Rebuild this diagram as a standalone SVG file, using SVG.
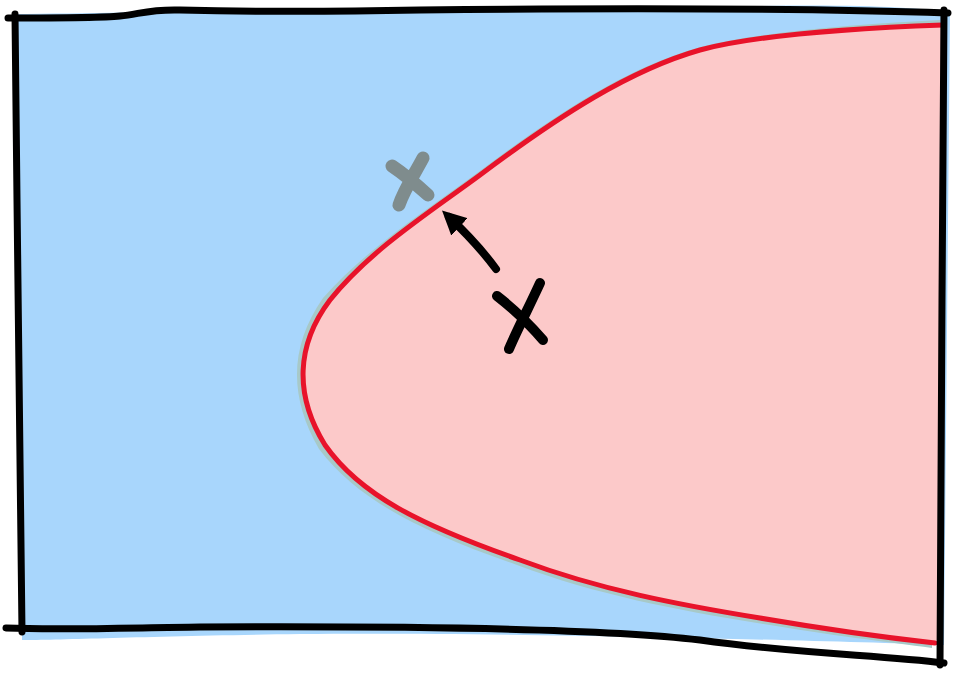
<svg xmlns="http://www.w3.org/2000/svg" width="953" height="673" viewBox="0 0 953 673">
<style>
.frame{fill:none;stroke:#000;stroke-width:7;stroke-linecap:round;stroke-linejoin:round}
.mark{fill:none;stroke-linecap:round;stroke-linejoin:round}
</style>
<defs>
<marker id="ah" viewBox="0 0 10 10" refX="6" refY="5" markerWidth="3" markerHeight="3" orient="auto">
<path d="M0,0 L10,5 L0,10 Z" fill="#000"/>
</marker>
</defs>
<g id="background">
<path d="M14,14 C200,12 500,6 760,6 C860,4 920,8 950,12 L944,645 C800,640 500,632 300,634 C150,636 60,640 22,640 Z" fill="#a8d6fc"/>
</g>
<g id="region">
<path d="M943,18 C860,22 760,30 700,46 C630,66 560,111 480,171 C430,208 370,246 326,296 C292,345 292,395 322,447 C360,497 420,528 520,563 C600,593 680,608 760,621 C830,633 890,640 935,646 Z" fill="#a7c9c8" transform="translate(-3,2)"/>
<path d="M943,25 C860,28 760,34 700,50 C630,70 560,115 480,175 C430,212 370,250 330,300 C296,345 294,395 325,445 C360,495 420,525 520,560 C600,590 680,605 760,618 C830,630 890,638 935,643 L942,643 L946,25 Z" fill="#fcc9c9"/>
<path d="M943,25 C860,28 760,34 700,50 C630,70 560,115 480,175 C430,212 370,250 330,300 C296,345 294,395 325,445 C360,495 420,525 520,560 C600,590 680,605 760,618 C830,630 890,638 935,643" fill="none" stroke="#e8132a" stroke-width="5" stroke-linecap="round"/>
</g>
<g id="frame">
<path class="frame" d="M8,18 C60,18 100,18 120,16 C140,14 150,9 180,10 C260,12 320,12 420,10 C600,8 800,8 948,13"/>
<path class="frame" d="M15,14 L17,200 L22,632"/>
<path class="frame" d="M6,628 C60,630 120,628 200,627 C400,626 600,628 700,640 C800,654 880,655 944,663"/>
<path class="frame" d="M944,10 L942,300 L940,665"/>
</g>
<g id="x-before">
<path class="mark" d="M392,166 C404,174 418,186 428,195 M423,158 C414,175 404,190 399,205" stroke="#7f8c8d" stroke-width="13"/>
</g>
<g id="x-after">
<path class="mark" d="M497,296 C510,306 530,325 543,340 M540,283 C530,305 517,330 509,349" stroke="#000" stroke-width="10"/>
</g>
<g id="connectors">
<path class="mark" d="M496,269 C482,250 465,232 449,217" stroke="#000" stroke-width="8" marker-end="url(#ah)"/>
</g>
</svg>
